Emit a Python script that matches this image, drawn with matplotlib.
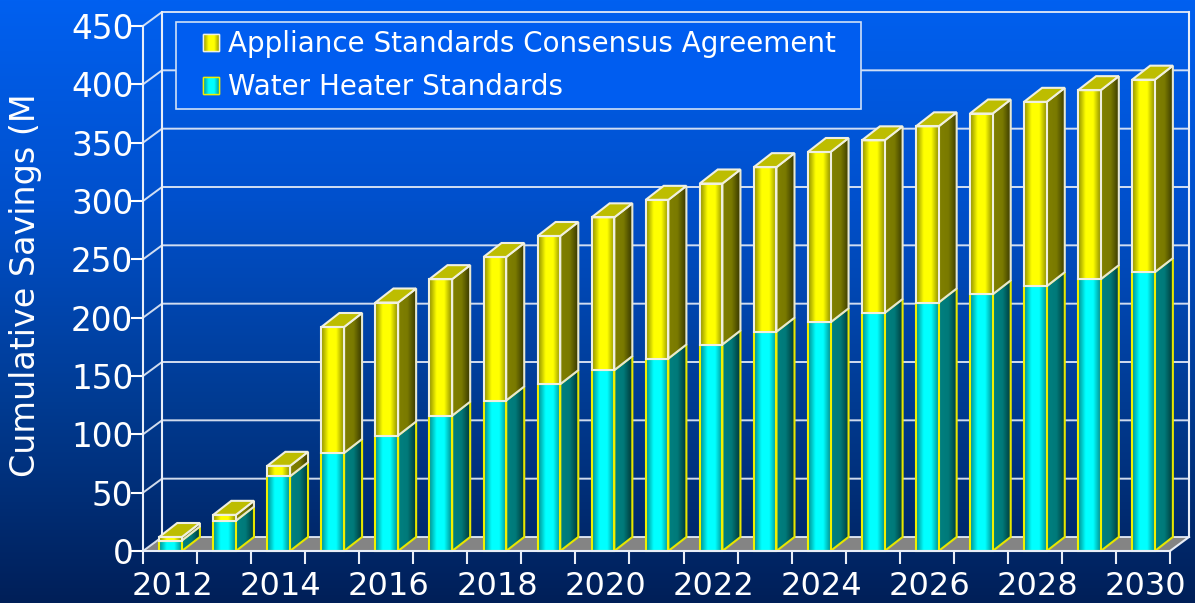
import numpy as np
from matplotlib import pyplot as plt
from matplotlib.colors import LinearSegmentedColormap
from matplotlib.patches import Polygon, Patch, Rectangle

years = list(range(2012, 2031))
water_heater = [9, 26, 64, 84, 99, 116, 129, 143, 155, 165, 177, 188, 196, 204, 213, 220, 227, 233, 239]
appliance = [3, 5, 9, 108, 114, 117, 123, 127, 131, 136, 138, 141, 146, 148, 151, 155, 158, 162, 165]
y_ticks = [0, 50, 100, 150, 200, 250, 300, 350, 400, 450]

W, H = 1195, 603
bar_w = 0.42
depth_x = 18 / 54.05
depth_y = 12
wall_x = 19 / 54.05
wall_y = 12
line_col = "#e8eef8"

plt.rcParams["font.family"] = "DejaVu Sans"

yellow_front = LinearSegmentedColormap.from_list("yf", ["#8f8f00", "#ffff00", "#ffff00", "#8f8f00"])
yellow_side = LinearSegmentedColormap.from_list("ys", ["#808000", "#7a7a00", "#333300"])
cyan_front = LinearSegmentedColormap.from_list("cf", ["#008f8f", "#00ffff", "#00ffff", "#008f8f"])
cyan_side = LinearSegmentedColormap.from_list("cs", ["#008080", "#007a7a", "#003333"])

fig = plt.figure(figsize=(W / 100, H / 100), dpi=100)

# background gradient
bg = fig.add_axes([0, 0, 1, 1], zorder=0)
bg_cmap = LinearSegmentedColormap.from_list("bg", ["#0060f0", "#0050cc", "#003b92", "#001f58"])
bg.imshow(np.linspace(0, 1, 256).reshape(-1, 1), cmap=bg_cmap, aspect="auto", interpolation="bilinear")
bg.axis("off")

ax = fig.add_axes([143 / W, 1 - 551 / H, (1170 - 143) / W, (551 - 26) / H], zorder=1)
ax.patch.set_visible(False)


def shaded(points, cmap, z):
    # gradient filled polygon, left to right
    xs = [p[0] for p in points]
    ys = [p[1] for p in points]
    im = ax.imshow(np.linspace(0, 1, 64).reshape(1, -1), cmap=cmap, aspect="auto",
                   extent=(min(xs), max(xs), min(ys), max(ys)), zorder=z, interpolation="bilinear")
    im.set_clip_box(fig.bbox)
    im.set_clip_path(Polygon(points, closed=True, transform=ax.transData))


def outline(points, col, z, lw=1.5):
    ax.add_patch(Polygon(points, closed=True, fill=False, edgecolor=col, linewidth=lw,
                         zorder=z, clip_on=False))


n = len(years)

# floor and walls
ax.add_patch(Polygon([(0, 0), (n, 0), (n + wall_x, wall_y), (wall_x, wall_y)], closed=True,
                     facecolor="#848484", edgecolor="none", zorder=1, clip_on=False))
for v in y_ticks:
    ax.plot([0, wall_x, n + wall_x], [v, v + wall_y, v + wall_y], color=line_col, lw=1.4,
            zorder=2, clip_on=False, solid_joinstyle="miter", alpha=0.9)
ax.plot([wall_x, wall_x], [wall_y, 450 + wall_y], color=line_col, lw=1.5, zorder=2, clip_on=False)
ax.plot([n + wall_x, n + wall_x], [wall_y, 450 + wall_y], color=line_col, lw=1.5, zorder=2, clip_on=False)
ax.plot([n, n + wall_x], [0, wall_y], color=line_col, lw=1.5, zorder=2, clip_on=False)

# stacked 3d bars, back to front
for i in range(n):
    z = 3 + i * 0.01
    x0 = i + 0.5 - bar_w / 2 + 0.01
    x1 = x0 + bar_w
    w = water_heater[i]
    t = w + appliance[i]

    side_c = [(x1, 0), (x1 + depth_x, depth_y), (x1 + depth_x, w + depth_y), (x1, w)]
    front_c = [(x0, 0), (x1, 0), (x1, w), (x0, w)]
    side_y = [(x1, w), (x1 + depth_x, w + depth_y), (x1 + depth_x, t + depth_y), (x1, t)]
    front_y = [(x0, w), (x1, w), (x1, t), (x0, t)]
    top = [(x0, t), (x1, t), (x1 + depth_x, t + depth_y), (x0 + depth_x, t + depth_y)]

    shaded(side_c, cyan_side, z)
    outline(side_c, "#e6e600", z + 0.001)
    shaded(front_c, cyan_front, z + 0.002)
    outline(front_c, "#f0f000", z + 0.003)
    shaded(side_y, yellow_side, z + 0.004)
    outline(side_y, "#e8e8d0", z + 0.005)
    shaded(front_y, yellow_front, z + 0.006)
    ax.add_patch(Polygon(top, closed=True, facecolor="#bdbd00", edgecolor="#f0f0e0", linewidth=1.5,
                         zorder=z + 0.007, clip_on=False))
    outline(front_y, "#f0f0e0", z + 0.008)

ax.set_xlim(0, n)
ax.set_ylim(0, 450)

for side in ["top", "right"]:
    ax.spines[side].set_visible(False)
for side in ["left", "bottom"]:
    ax.spines[side].set_color(line_col)
    ax.spines[side].set_linewidth(1.5)
    ax.spines[side].set_zorder(6)

ax.set_yticks(y_ticks)
ax.tick_params(axis="y", colors="white", length=9, width=1.5, pad=-2, labelsize=23.5)
ax.set_xticks(range(n + 1))
ax.set_xticklabels([])
ax.tick_params(axis="x", which="major", colors=line_col, length=9, width=1.5)
ax.set_xticks([i + 0.55 for i in range(0, n, 2)], minor=True)
ax.set_xticklabels([str(years[i]) for i in range(0, n, 2)], minor=True)
ax.tick_params(axis="x", which="minor", colors="white", length=0, pad=14.5, labelsize=23)

fig.text(26 / W, 1 - 285 / H, "Cumulative Savings (M", color="white", rotation=90,
         ha="center", va="center", fontsize=24)

# legend box drawn apart so the entries can be inset further than the frame padding allows
ax.add_patch(Rectangle((176 / W, 1 - 109 / H), 685 / W, 87 / H, transform=fig.transFigure,
                       facecolor="#005df0", edgecolor="#cfe0f8", linewidth=1.2, zorder=4.9,
                       clip_on=False))
handles = [Patch(facecolor="#e6e600", edgecolor="#f0f0e0", linewidth=1),
           Patch(facecolor="#00e6e6", edgecolor="#f0f000", linewidth=1)]
leg = ax.legend(handles, ["Appliance Standards Consensus Agreement", "Water Heater Standards"],
                loc="upper left", bbox_to_anchor=(203 / W, 1 - 30 / H),
                bbox_transform=fig.transFigure, borderaxespad=0, fontsize=20, borderpad=0,
                handlelength=0.58, handleheight=0.58, handletextpad=0.32,
                labelspacing=0.55, labelcolor="white", frameon=False)
leg.set_zorder(5)

# gradient swatches over the legend keys
fig.canvas.draw()
to_data = ax.transData.inverted()
swatch_maps = [yellow_front, cyan_front]
swatch_edges = ["#f0f0e0", "#f0f000"]
for patch, cmap, edge in zip(leg.get_patches(), swatch_maps, swatch_edges):
    bb = patch.get_window_extent()
    (a, b), (c, d) = to_data.transform([(bb.x0, bb.y0), (bb.x1, bb.y1)])
    corners = [(a, b), (c, b), (c, d), (a, d)]
    shaded(corners, cmap, 5.1)
    outline(corners, edge, 5.2, lw=1)

fig.savefig("out.png", dpi=100)
